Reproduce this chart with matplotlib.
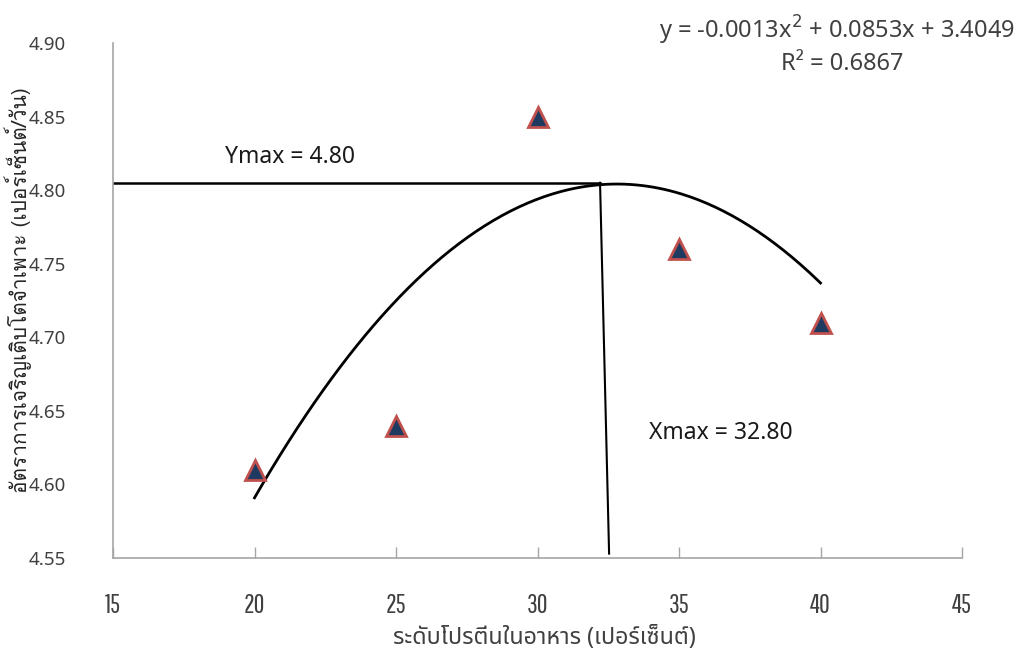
import matplotlib
matplotlib.use("Agg")
import matplotlib.pyplot as plt
import numpy as np

# data
protein = [20, 25, 30, 35, 40]
sgr = [4.61, 4.64, 4.85, 4.76, 4.71]
coef = [-0.0013, 0.0853, 3.4049]
r2 = 0.6867
ymax_line_y = 4.805
xmax_line_top = (32.21, 4.805)
xmax_line_bottom = (32.53, 4.553)
xticks = [15, 20, 25, 30, 35, 40, 45]
yticks = [4.55, 4.60, 4.65, 4.70, 4.75, 4.80, 4.85, 4.90]

W, H = 1035, 655
fig = plt.figure(figsize=(W / 100, H / 100), dpi=100)
ax = fig.add_axes([113 / W, 1 - 558 / H, (962 - 113) / W, (558 - 43) / H])

xs = np.linspace(20, 40, 200)
ax.plot(xs, np.polyval(coef, xs), color='black', lw=2, zorder=2)
ax.plot([15, xmax_line_top[0]], [ymax_line_y, ymax_line_y], color='black', lw=1.8, zorder=2)
ax.plot([xmax_line_top[0], xmax_line_bottom[0]], [xmax_line_top[1], xmax_line_bottom[1]],
        color='black', lw=1.5, zorder=2)
ax.plot(protein, sgr, linestyle='none', marker='^', ms=15, mfc='#1F3A60', mec='#C0504D',
        mew=2, zorder=3)

ax.set_xlim(15, 45)
ax.set_ylim(4.55, 4.90)
ax.set_xticks(xticks)
ax.set_yticks(yticks)
ax.set_xticklabels([str(v) for v in xticks], family=['Pathway Gothic One', 'DejaVu Sans'],
                   fontsize=19, color='#404040')
ax.set_yticklabels([f"{v:.2f}" for v in yticks], family=['Noto Sans', 'DejaVu Sans'],
                   fontsize=13.5, color='#404040')
for s in ['top', 'right']:
    ax.spines[s].set_visible(False)
for s in ['left', 'bottom']:
    ax.spines[s].set_color('#A6A6A6')
    ax.spines[s].set_linewidth(1.2)
ax.tick_params(axis='x', direction='in', length=8, width=1, color='#A6A6A6', pad=25)
ax.tick_params(axis='y', length=0, pad=34)

txtfam = ['Noto Sans', 'DejaVu Sans']
fig.text(290 / W, 1 - 157 / H, "Ymax = 4.80", family=txtfam, fontsize=16.5, color='#1a1a1a',
         ha='center', va='center')
fig.text(721 / W, 1 - 433 / H, "Xmax = 32.80", family=txtfam, fontsize=16.5, color='#1a1a1a',
         ha='center', va='center')
eq = f"y = {coef[0]:.4f}x$^2$ + {coef[1]:.4f}x + {coef[2]:.4f}"
fig.text(837 / W, 1 - 30 / H, eq, family=txtfam, fontsize=17, color='#404040',
         ha='center', va='center')
fig.text(842 / W, 1 - 64 / H, f"R² = {r2:.4f}", family=txtfam, fontsize=17, color='#404040',
         ha='center', va='center')

fig.text(544 / W, 1 - 638 / H, "ระดับโปรตีนในอาหาร (เปอร์เซ็นต์)",
         family=['Noto Sans Thai', 'DejaVu Sans'], fontsize=16.8, color='#404040',
         ha='center', va='center')
fig.text(18 / W, 1 - 290 / H, "อัตราการเจริญเติบโตจำเพาะ (เปอร์เซ็นต์/วัน)",
         family=['Loma', 'DejaVu Sans'], fontsize=15, color='#262626',
         ha='center', va='center', rotation=90)

fig.savefig("out.png", dpi=100)
